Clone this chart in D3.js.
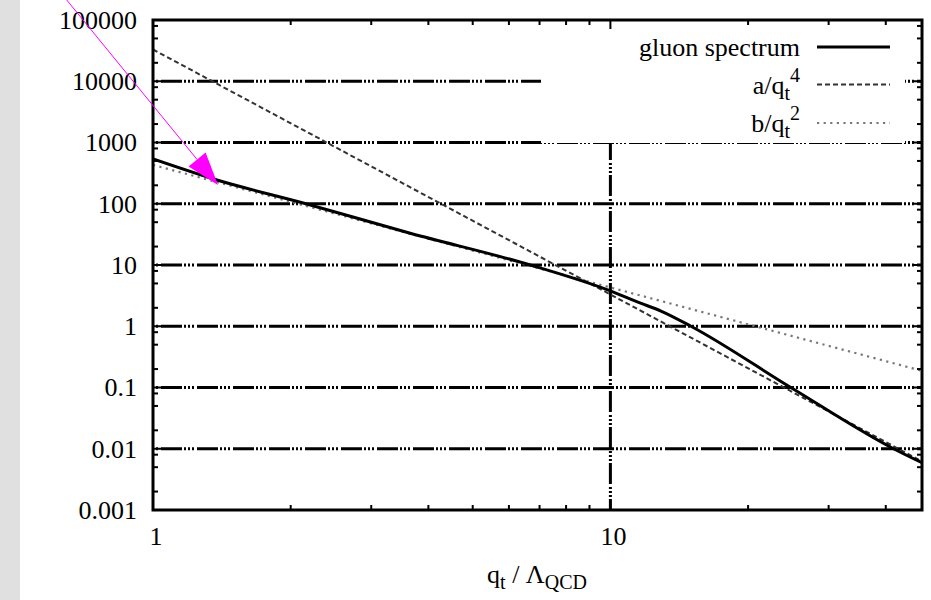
<!DOCTYPE html>
<html>
<head>
<meta charset="utf-8">
<script src="https://cdn.jsdelivr.net/npm/d3@7"></script>
<style>
  html, body { margin: 0; padding: 0; background: #fff; }
  svg { display: block; font-family: "Liberation Serif", "Times New Roman", serif; }
</style>
</head>
<body>
<svg id="chart" width="931" height="600"></svg>
<script>
// Gluon transverse-momentum spectrum, sampled along q_t / Lambda_QCD
const gluonQ        = [1, 1.38, 2.13, 3.65, 6.68, 10, 11.6, 12.9, 15, 24.8, 41.6, 48];
const gluonSpectrum = [538, 244, 103, 33, 10, 3.77, 2.4, 1.77, 1.0, 0.1, 0.01, 0.0059];

// Power-law reference curves
const fitQ = [1, 10, 48];
const fitA = [33000, 3.3, 0.0062];   // a / q_t^4
const fitB = [430, 4.3, 0.187];      // b / q_t^2

// Axes
const xDomain = [1, 48];
const yDomain = [0.001, 100000];
const xTickValues = [1, 10];
const xTickLabels = ["1", "10"];
const yTickValues = [100000, 10000, 1000, 100, 10, 1, 0.1, 0.01, 0.001];
const yTickLabels = ["100000", "10000", "1000", "100", "10", "1", "0.1", "0.01", "0.001"];
const xMinorTicks = [2, 3, 4, 5, 6, 7, 8, 9, 20, 30, 40];
const yMinorMantissas = [2, 5, 8];
const yGridValues = [10000, 1000, 100, 10, 1, 0.1, 0.01];
const xGridValues = [10];

// Annotation arrow tip (data units)
const arrowTip = [1.387, 202];

(function draw() {
  const svg = d3.select("#chart");
  const H = 600;
  const mLeft = 153, mRight = 922, mTop = 20, mBottom = 510;

  const x = d3.scaleLog().domain(xDomain).range([mLeft, mRight]);
  const y = d3.scaleLog().domain(yDomain).range([mBottom, mTop]);

  // grey strip on the left edge
  svg.append("rect").attr("x", 0).attr("y", 0).attr("width", 20).attr("height", H).attr("fill", "#e0e0e0");

  // grid: long dash followed by three dots
  const gridDash = "21,2,2,2,2,2,2,3";
  svg.append("g").selectAll("line").data(yGridValues).join("line")
    .attr("x1", mLeft).attr("x2", mRight)
    .attr("y1", d => y(d)).attr("y2", d => y(d))
    .attr("stroke", "#000").attr("stroke-width", 3)
    .attr("stroke-dasharray", gridDash).attr("stroke-dashoffset", 28);
  svg.append("g").selectAll("line").data(xGridValues).join("line")
    .attr("x1", d => x(d)).attr("x2", d => x(d))
    .attr("y1", mBottom).attr("y2", mTop)
    .attr("stroke", "#000").attr("stroke-width", 3)
    .attr("stroke-dasharray", gridDash).attr("stroke-dashoffset", 10);

  // opaque key box
  svg.append("rect").attr("x", 541).attr("y", mTop).attr("width", 364).attr("height", 123).attr("fill", "#fff");

  // curves
  svg.append("clipPath").attr("id", "plotclip")
    .append("rect").attr("x", mLeft).attr("y", mTop).attr("width", mRight - mLeft).attr("height", mBottom - mTop);
  const plot = svg.append("g").attr("clip-path", "url(#plotclip)");

  const line = d3.line().x(d => x(d[0])).y(d => y(d[1]));

  const styles = {
    gluon: { stroke: "#000", width: 3, dash: null },
    a: { stroke: "#333", width: 2, dash: "5,3" },
    b: { stroke: "#777", width: 2.2, dash: "2.2,4.4" }
  };

  plot.append("path")
    .datum(d3.zip(fitQ, fitB))
    .attr("d", line)
    .attr("fill", "none").attr("stroke", styles.b.stroke).attr("stroke-width", styles.b.width)
    .attr("stroke-dasharray", styles.b.dash);
  plot.append("path")
    .datum(d3.zip(fitQ, fitA))
    .attr("d", line)
    .attr("fill", "none").attr("stroke", styles.a.stroke).attr("stroke-width", styles.a.width)
    .attr("stroke-dasharray", styles.a.dash);
  plot.append("path")
    .datum(d3.zip(gluonQ, gluonSpectrum))
    .attr("d", d3.line().x(d => x(d[0])).y(d => y(d[1])).curve(d3.curveMonotoneX))
    .attr("fill", "none").attr("stroke", styles.gluon.stroke).attr("stroke-width", styles.gluon.width)
    .attr("stroke-linejoin", "round");

  // frame
  svg.append("rect").attr("x", mLeft).attr("y", mTop).attr("width", mRight - mLeft).attr("height", mBottom - mTop)
    .attr("fill", "none").attr("stroke", "#000").attr("stroke-width", 3);

  // ticks (mirrored on all four sides)
  const ticks = svg.append("g").attr("stroke", "#000").attr("stroke-width", 2);
  const minorLen = 5, majorLen = 9;
  xMinorTicks.forEach(v => {
    ticks.append("line").attr("x1", x(v)).attr("x2", x(v)).attr("y1", mBottom).attr("y2", mBottom - minorLen);
    ticks.append("line").attr("x1", x(v)).attr("x2", x(v)).attr("y1", mTop).attr("y2", mTop + minorLen);
  });
  xTickValues.forEach(v => {
    ticks.append("line").attr("x1", x(v)).attr("x2", x(v)).attr("y1", mBottom).attr("y2", mBottom - majorLen);
    ticks.append("line").attr("x1", x(v)).attr("x2", x(v)).attr("y1", mTop).attr("y2", mTop + majorLen);
  });
  const yMinor = [];
  yTickValues.forEach(d => { if (d < 100000) yMinorMantissas.forEach(m => yMinor.push(d * m)); });
  yMinor.forEach(v => {
    ticks.append("line").attr("y1", y(v)).attr("y2", y(v)).attr("x1", mLeft).attr("x2", mLeft + minorLen);
    ticks.append("line").attr("y1", y(v)).attr("y2", y(v)).attr("x1", mRight).attr("x2", mRight - minorLen);
  });
  yTickValues.forEach(v => {
    ticks.append("line").attr("y1", y(v)).attr("y2", y(v)).attr("x1", mLeft).attr("x2", mLeft + majorLen);
    ticks.append("line").attr("y1", y(v)).attr("y2", y(v)).attr("x1", mRight).attr("x2", mRight - majorLen);
  });

  // tick labels
  const fs = 26;
  svg.append("g").selectAll("text").data(yTickValues).join("text")
    .attr("x", 137).attr("y", d => y(d)).attr("dy", "0.34em")
    .attr("text-anchor", "end").attr("font-size", fs).attr("fill", "#000")
    .text((d, i) => yTickLabels[i]);
  svg.append("g").selectAll("text").data(xTickValues).join("text")
    .attr("x", d => x(d) + 3).attr("y", 545)
    .attr("text-anchor", "middle").attr("font-size", fs).attr("fill", "#000")
    .text((d, i) => xTickLabels[i]);

  // axis title: q_t / Lambda_QCD
  const xt = svg.append("text").attr("x", 537).attr("y", 583).attr("text-anchor", "middle")
    .attr("font-size", fs).attr("fill", "#000");
  xt.append("tspan").text("q");
  xt.append("tspan").attr("dy", 6).attr("font-size", 20).text("t");
  xt.append("tspan").attr("dy", -6).text(" / Λ");
  xt.append("tspan").attr("dy", 6).attr("font-size", 20).text("QCD");

  // key
  const keyItems = [
    { parts: [{ t: "gluon spectrum" }], style: styles.gluon },
    { parts: [{ t: "a/q" }, { t: "t", dy: 6, small: true }, { t: "4", dy: -18, small: true }], style: styles.a },
    { parts: [{ t: "b/q" }, { t: "t", dy: 6, small: true }, { t: "2", dy: -18, small: true }], style: styles.b }
  ];
  const keyY = [47, 84.5, 123];
  keyItems.forEach((item, i) => {
    const ty = keyY[i] + 9;
    const tx = svg.append("text").attr("x", 800).attr("y", ty).attr("text-anchor", "end")
      .attr("font-size", fs).attr("fill", "#000");
    item.parts.forEach(p => {
      const s = tx.append("tspan").text(p.t);
      if (p.dy) s.attr("dy", p.dy);
      if (p.small) s.attr("font-size", 20);
    });
    const l = svg.append("line").attr("x1", 817).attr("x2", 890).attr("y1", keyY[i]).attr("y2", keyY[i])
      .attr("stroke", item.style.stroke).attr("stroke-width", item.style.width);
    if (item.style.dash) l.attr("stroke-dasharray", item.style.dash);
  });

  // annotation arrow
  const tipX = x(arrowTip[0]), tipY = y(arrowTip[1]);
  const tailX = tipX - 170, tailY = tipY - 208;
  const ang = Math.atan2(tipY - tailY, tipX - tailX);
  const headLen = 33, headHalf = 11;
  const bx = tipX - headLen * Math.cos(ang), by = tipY - headLen * Math.sin(ang);
  svg.append("line").attr("x1", tailX).attr("y1", tailY).attr("x2", bx).attr("y2", by)
    .attr("stroke", "#ff00ff").attr("stroke-width", 1);
  svg.append("path")
    .attr("d", `M${tipX},${tipY}L${bx + headHalf * Math.sin(ang)},${by - headHalf * Math.cos(ang)}L${bx - headHalf * Math.sin(ang)},${by + headHalf * Math.cos(ang)}Z`)
    .attr("fill", "#ff00ff");
})();
</script>
</body>
</html>
